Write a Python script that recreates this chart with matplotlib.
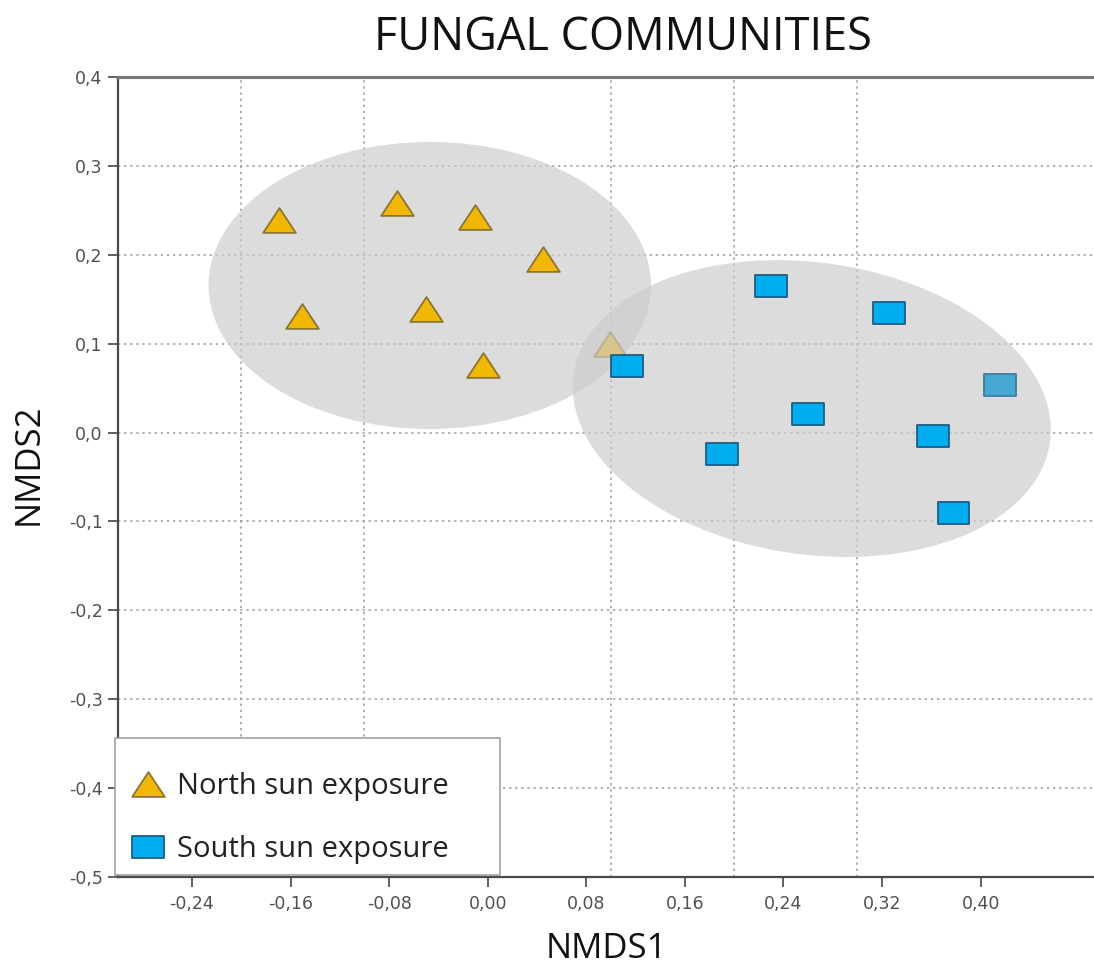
import matplotlib
matplotlib.use("Agg")
import matplotlib.pyplot as plt
import numpy as np
from matplotlib.patches import Ellipse, Rectangle
from matplotlib.lines import Line2D
from matplotlib.path import Path
from matplotlib.ticker import MultipleLocator, FixedLocator, FuncFormatter

# NMDS scores per sample
north_x = [-0.169, -0.074, -0.010, 0.045, -0.151, -0.050, -0.004, 0.099]
north_y = [0.239, 0.258, 0.243, 0.195, 0.131, 0.139, 0.076, 0.100]
south_x = [0.230, 0.326, 0.113, 0.416, 0.260, 0.361, 0.190, 0.378]
south_y = [0.165, 0.135, 0.075, 0.053, 0.021, -0.004, -0.024, -0.090]

# group ellipses: centre, width, height, angle (data units)
north_ellipse = ((-0.047, 0.1655), 0.359, 0.323, 0.0)
south_ellipse = ((0.263, 0.027), 0.3975, 0.3226, -21.9)

x_ticks = [-0.24, -0.16, -0.08, 0.00, 0.08, 0.16, 0.24, 0.32, 0.40]
y_ticks = [-0.5, -0.4, -0.3, -0.2, -0.1, 0.0, 0.1, 0.2, 0.3, 0.4]

labels = ["North sun exposure", "South sun exposure"]

TRI_FILL, TRI_EDGE = "#F2B700", "#8A7634"
SQ_FILL, SQ_EDGE = "#00AEEF", "#1D5E86"
SQ_FADED_FILL, SQ_FADED_EDGE = "#45A9D3", "#3C7EA0"

tri_marker = Path([(-1, -0.76), (1, -0.76), (0, 0.76), (-1, -0.76)],
                  [Path.MOVETO, Path.LINETO, Path.LINETO, Path.CLOSEPOLY])
rect_marker = Path([(-1, -0.69), (1, -0.69), (1, 0.69), (-1, 0.69), (-1, -0.69)],
                   [Path.MOVETO, Path.LINETO, Path.LINETO, Path.LINETO, Path.CLOSEPOLY])

W, H = 1094, 968
fig = plt.figure(figsize=(W / 100, H / 100), dpi=100)
fig.patch.set_facecolor("white")
ax = fig.add_axes([118 / W, (H - 877) / H, (W - 118) / W, 800 / H])
ax.set_xlim(-0.30, 0.492)
ax.set_ylim(-0.5, 0.4)

# grid: vertical lines every 0.1, horizontal lines at the y ticks
ax.xaxis.set_major_locator(FixedLocator(x_ticks))
ax.xaxis.set_minor_locator(MultipleLocator(0.1))
ax.yaxis.set_major_locator(FixedLocator(y_ticks))
grid_kw = dict(color="#9a9a9a", linestyle=(0, (1.5, 2.5)), linewidth=1.1)
ax.grid(False)
ax.xaxis.grid(True, which="minor", **grid_kw)
ax.yaxis.grid(True, which="major", **grid_kw)
ax.set_axisbelow(True)


def comma_fmt(decimals):
    def f(v, pos):
        s = f"{v:.{decimals}f}".replace(".", ",")
        if s.startswith("-") and float(v) == 0:
            s = s[1:]
        return s
    return FuncFormatter(f)


ax.xaxis.set_major_formatter(comma_fmt(2))
ax.yaxis.set_major_formatter(comma_fmt(1))
ax.tick_params(axis="both", which="major", direction="out", length=7, width=1.3,
               color="#555555", labelcolor="#505050", labelsize=12.5)
ax.tick_params(axis="x", which="major", pad=6)
ax.tick_params(axis="y", which="major", pad=4)
ax.tick_params(axis="x", which="minor", length=0)
for lab in ax.get_xticklabels() + ax.get_yticklabels():
    lab.set_fontfamily("DejaVu Sans")

for side in ("left", "bottom"):
    ax.spines[side].set_color("#4a4a4a")
    ax.spines[side].set_linewidth(1.6)
ax.spines["top"].set_color("#777777")
ax.spines["top"].set_linewidth(2.2)
ax.spines["right"].set_visible(False)

ell_kw = dict(facecolor="#cccccc", edgecolor="none", alpha=0.68)
(c, w, h, a) = north_ellipse
ax.add_patch(Ellipse(c, w, h, angle=a, zorder=1, **ell_kw))

ax.scatter(north_x, north_y, marker=tri_marker, s=23.5 ** 2, facecolor=TRI_FILL,
           edgecolor=TRI_EDGE, linewidth=1.3, zorder=2)

(c, w, h, a) = south_ellipse
ax.add_patch(Ellipse(c, w, h, angle=a, zorder=3, **ell_kw))

faded = int(np.argmax(south_x))
sq_face = [SQ_FADED_FILL if i == faded else SQ_FILL for i in range(len(south_x))]
sq_edge = [SQ_FADED_EDGE if i == faded else SQ_EDGE for i in range(len(south_x))]
ax.scatter(south_x, south_y, marker=rect_marker, s=23 ** 2, facecolor=sq_face,
           edgecolor=sq_edge, linewidth=1.3, zorder=4)

# legend box and entries
ax.add_patch(Rectangle((-0.003, 0.0025), 0.394, 0.171, transform=ax.transAxes,
                       facecolor="white", edgecolor="#9a9a9a", linewidth=1.1,
                       clip_on=False, zorder=5))
handles = [
    Line2D([], [], linestyle="none", marker=tri_marker, markersize=23.5,
           markerfacecolor=TRI_FILL, markeredgecolor=TRI_EDGE, markeredgewidth=1.3),
    Line2D([], [], linestyle="none", marker=rect_marker, markersize=23,
           markerfacecolor=SQ_FILL, markeredgecolor=SQ_EDGE, markeredgewidth=1.3),
]
leg = ax.legend(handles, labels, loc="center left", bbox_to_anchor=(0.0143, 0.0735),
                frameon=False, borderpad=0, borderaxespad=0, handlelength=1.1,
                handletextpad=0.45, labelspacing=1.16,
                prop={"family": "Open Sans", "size": 21})
leg.set_zorder(6)
for t in leg.get_texts():
    t.set_color("#222222")

fig.text(623 / W, 1 - 38 / H, "FUNGAL COMMUNITIES", ha="center", va="center",
         fontsize=32.5, family="Open Sans", color="#111111")
fig.text(606 / W, 1 - 949 / H, "NMDS1", ha="center", va="center",
         fontsize=25, family="Open Sans", color="#111111")
fig.text(29 / W, 1 - 464 / H, "NMDS2", ha="center", va="center", rotation=90,
         fontsize=25, family="Open Sans", color="#111111")

fig.savefig("out.png", dpi=100, facecolor="white")
